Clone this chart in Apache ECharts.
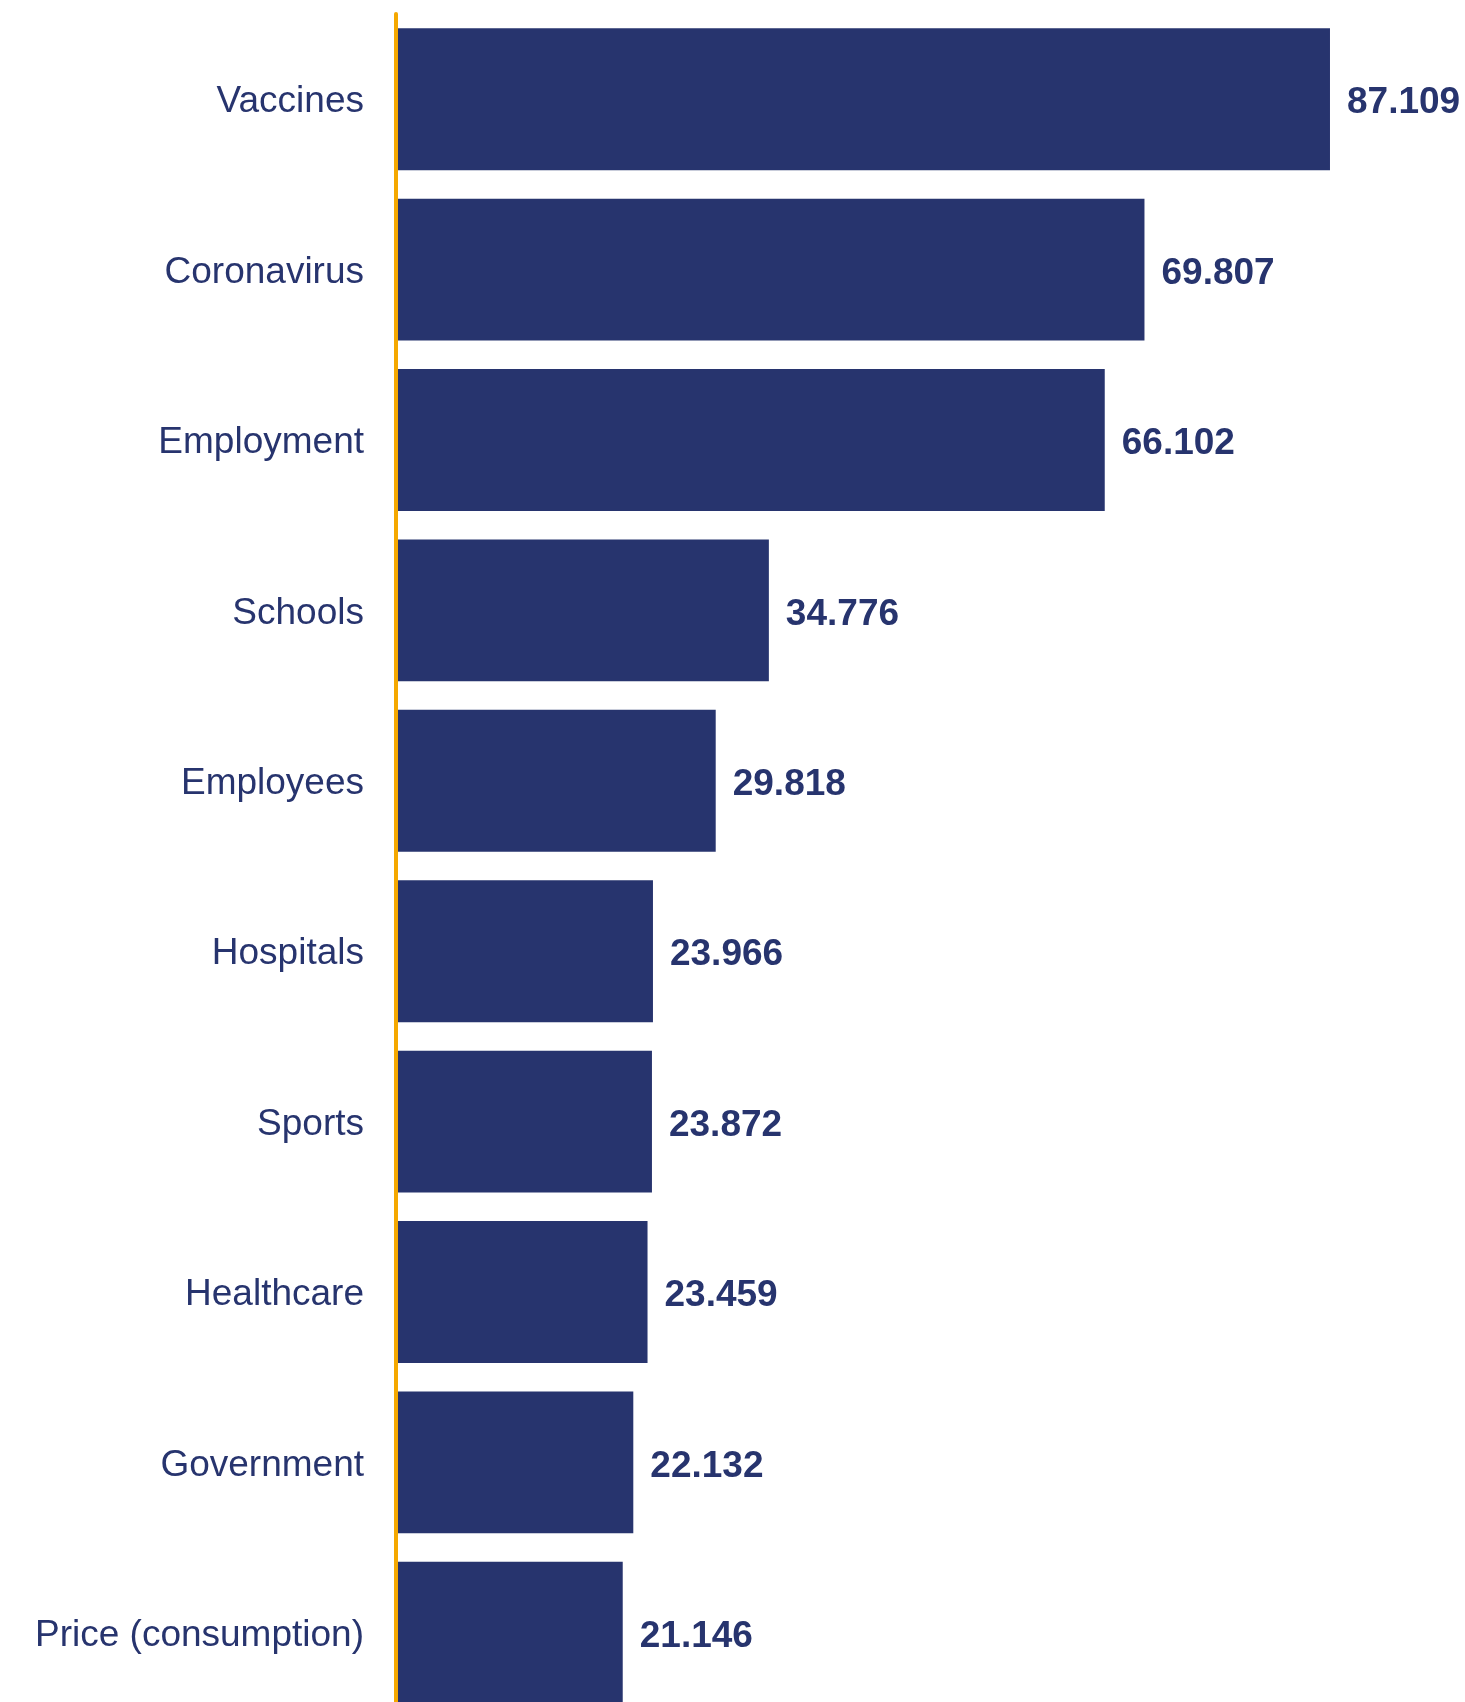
<!DOCTYPE html>
<html>
<head>
<meta charset="utf-8">
<style>
  html, body { margin: 0; padding: 0; background: #ffffff; }
  #chart { width: 1465px; height: 1702px; }
</style>
<script src="https://cdn.jsdelivr.net/npm/echarts@6/dist/echarts.min.js"></script>
</head>
<body>
<div id="chart"></div>
<script>
// Topic counts, largest first
const categories = [
  'Vaccines', 'Coronavirus', 'Employment', 'Schools', 'Employees',
  'Hospitals', 'Sports', 'Healthcare', 'Government', 'Price (consumption)'
];
const values = [87.109, 69.807, 66.102, 34.776, 29.818, 23.966, 23.872, 23.459, 22.132, 21.146];

const NAVY = '#27346e';
const ORANGE = '#f5a800';
const FONT = '"Liberation Sans", Arial, Helvetica, sans-serif';

const chart = echarts.init(document.getElementById('chart'), null, { renderer: 'canvas' });

chart.setOption({
  animation: false,
  backgroundColor: '#ffffff',
  // the last row runs past the bottom edge, so the grid is taller than the canvas
  grid: { left: 396, top: 14, width: 1072.2, height: 1704, outerBoundsMode: 'none', containLabel: false },
  xAxis: {
    type: 'value',
    min: 0,
    max: 100,
    show: false
  },
  yAxis: {
    type: 'category',
    data: categories,
    inverse: true,
    z: 10,
    axisLine: { show: true, lineStyle: { color: ORANGE, width: 4 } },
    axisTick: { show: false },
    splitLine: { show: false },
    axisLabel: {
      margin: 32,
      color: NAVY,
      fontFamily: FONT,
      fontSize: 37,
      formatter: v => '{t|' + v + '}',
      rich: {
        t: {
          color: NAVY,
          fontFamily: FONT,
          fontSize: 37,
          padding: [6, 0, 0, 0]
        }
      }
    }
  },
  series: [{
    type: 'bar',
    data: values,
    barCategoryGap: '16.7%',
    itemStyle: { color: NAVY },
    label: {
      show: true,
      position: 'right',
      distance: 17,
      offset: [0, 4],
      color: NAVY,
      fontFamily: FONT,
      fontSize: 37,
      fontWeight: 'bold',
      formatter: p => p.value.toFixed(3)
    }
  }]
});
</script>
</body>
</html>
